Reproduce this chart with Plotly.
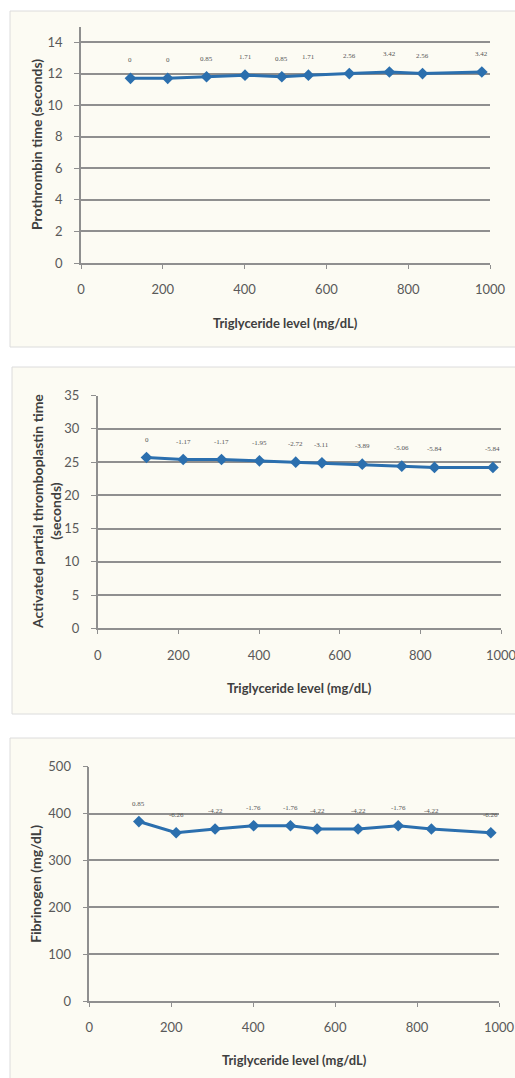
import plotly.graph_objects as go

# ---------------- data ----------------
trig = [121, 212, 307, 401, 491, 556, 656, 754, 835, 980]

pt_vals = [11.7, 11.7, 11.8, 11.9, 11.8, 11.9, 12.0, 12.1, 12.0, 12.1]
pt_labels = ["0", "0", "0.85", "1.71", "0.85", "1.71", "2.56", "3.42", "2.56", "3.42"]

aptt_vals = [25.7, 25.4, 25.4, 25.2, 25.0, 24.9, 24.7, 24.4, 24.2, 24.2]
aptt_labels = ["0", "-1.17", "-1.17", "-1.95", "-2.72", "-3.11", "-3.89", "-5.06", "-5.84", "-5.84"]

fib_vals = [383, 359, 367, 374, 374, 367, 367, 374, 367, 359]
fib_labels = ["0.85", "-6.26", "-4.22", "-1.76", "-1.76", "-4.22", "-4.22", "-1.76", "-4.22", "-6.26"]

x_ticks = [0, 200, 400, 600, 800, 1000]
x_title = ["Triglyceride level (mg/dL)", "Triglyceride level (mg/dL)", "Triglyceride level (mg/dL)"]
y_titles = ["Prothrombin time (seconds)",
            "Activated partial thromboplastin time<br>(seconds)",
            "Fibrinogen (mg/dL)"]

# ---------------- layout helpers ----------------
W, H = 515, 1078
LINE = "#2b6fae"
GRID = "#8f8f8f"
TICKC = "#595959"
TITLEC = "#3f3f3f"
PANEL = "#fcfbf3"
FONT = "Lato, 'Open Sans', sans-serif"

def py(px):
    return 1 - px / H

def pxx(px):
    return px / W

# plot-area pixel boxes: (x_left, x_right, y_top, y_bottom), y range
panels = [
    dict(box=(81, 490, 27, 263), yr=[0, 14.95], dtick=2, vals=pt_vals, labels=pt_labels,
         ytitle_x=36, xtitle_y=323),
    dict(box=(97.7, 501, 395.7, 628.3), yr=[0, 35], dtick=5, vals=aptt_vals, labels=aptt_labels,
         ytitle_x=46, xtitle_y=688),
    dict(box=(89.3, 499, 766.7, 1001), yr=[0, 500], dtick=100, vals=fib_vals, labels=fib_labels,
         ytitle_x=36, xtitle_y=1060),
]
panel_rects = [(10, 11, 520, 347), (12, 367, 520, 714), (10, 738, 520, 1090)]

fig = go.Figure()
shapes = []
annotations = []

for (x0, y0, x1, y1) in panel_rects:
    shapes.append(dict(type="rect", xref="paper", yref="paper",
                       x0=pxx(x0), x1=pxx(x1), y0=py(y1), y1=py(y0),
                       fillcolor=PANEL, line=dict(color="#dcdcdc", width=1), layer="below"))

for i, p in enumerate(panels, start=1):
    xl, xr, yt, yb = p["box"]
    sfx = "" if i == 1 else str(i)
    fig.add_trace(go.Scatter(
        x=trig, y=p["vals"], mode="lines+markers",
        line=dict(color=LINE, width=3),
        marker=dict(symbol="diamond", size=9, color=LINE),
        xaxis="x" + sfx, yaxis="y" + sfx, showlegend=False, hoverinfo="skip"))
    for xv, yv, lab in zip(trig, p["vals"], p["labels"]):
        annotations.append(dict(x=xv, y=yv, xref="x" + sfx, yref="y" + sfx, text=lab,
                                showarrow=False, yshift=18,
                                font=dict(family="'Liberation Serif', serif", size=7, color="#555555")))
    fig.update_layout(**{
        "xaxis" + sfx: dict(domain=[pxx(xl), pxx(xr)], range=[0, 1000], tickvals=x_ticks,
                            anchor="y" + sfx, showgrid=False, zeroline=False, automargin=False,
                            showline=True, linecolor=GRID, linewidth=1.5,
                            ticks="outside", ticklen=4, tickcolor=GRID,
                            tickfont=dict(family=FONT, size=13, color=TICKC),
                            ticklabelstandoff=10, ticklabeloverflow="allow", fixedrange=True),
        "yaxis" + sfx: dict(domain=[py(yb), py(yt)], range=p["yr"], dtick=p["dtick"], tick0=0,
                            anchor="x" + sfx, showgrid=True, gridcolor=GRID, gridwidth=1.5,
                            zeroline=False, showline=True, linecolor=GRID, linewidth=1.5,
                            automargin=False,
                            ticks="outside", ticklen=5, tickcolor=GRID,
                            tickfont=dict(family=FONT, size=13, color=TICKC),
                            ticklabelstandoff=9, ticklabeloverflow="allow", fixedrange=True),
    })
    annotations.append(dict(xref="x" + sfx + " domain", yref="paper", x=0.5, y=py(p["xtitle_y"]),
                            xanchor="center", yanchor="middle",
                            text="<b>" + x_title[i - 1] + "</b>", showarrow=False,
                            font=dict(family=FONT, size=13, color=TITLEC)))
    annotations.append(dict(xref="paper", yref="y" + sfx + " domain", x=pxx(p["ytitle_x"]), y=0.5,
                            xanchor="center", yanchor="middle",
                            text="<b>" + y_titles[i - 1] + "</b>", showarrow=False, textangle=-90,
                            font=dict(family=FONT, size=14, color=TITLEC)))

fig.update_layout(width=W, height=H, margin=dict(l=0, r=0, t=0, b=0),
                  paper_bgcolor="white", plot_bgcolor="rgba(0,0,0,0)",
                  shapes=shapes, annotations=annotations)

fig.write_html("out.html",
               config={"displayModeBar": False},
               post_script="document.body.style.margin='0';document.body.style.overflow='hidden';")
